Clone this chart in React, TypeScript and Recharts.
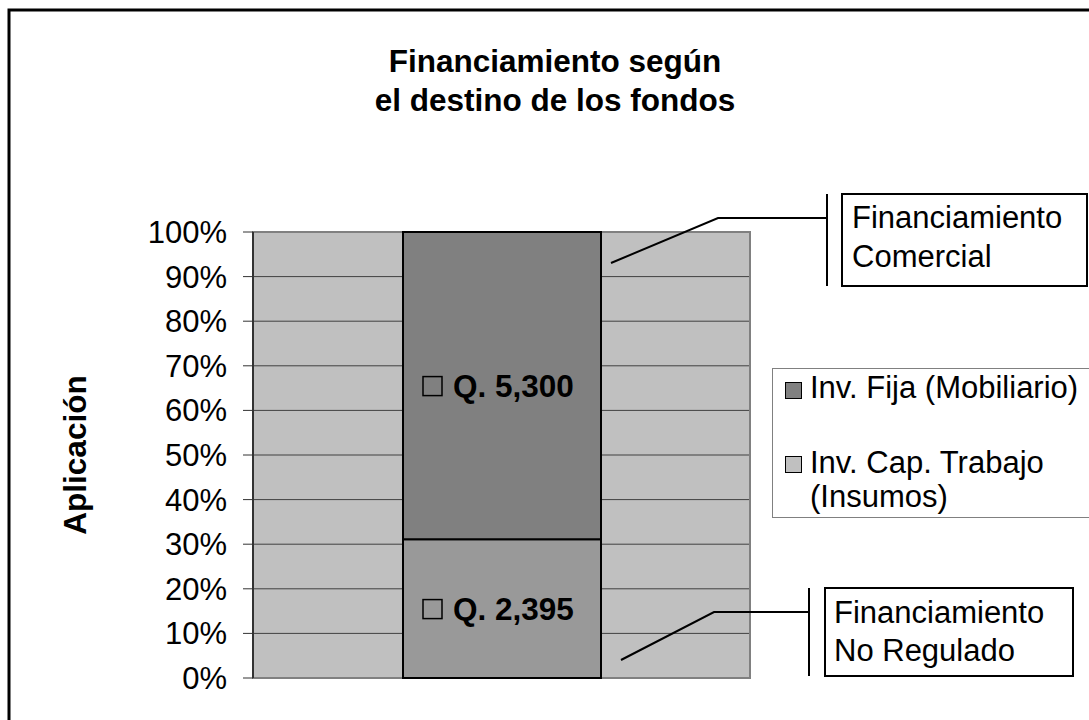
import {
  BarChart,
  Bar,
  XAxis,
  YAxis,
  CartesianGrid,
  LabelList,
  Legend,
  ReferenceArea,
} from "recharts";

const FONT = "'Liberation Sans', Arial, sans-serif";
const FS = 31;
const FSB = 31.5;

const categorias = ["Aplicación"];
const capTrabajo = [2395];
const invFija = [5300];
const yTicks = [0, 0.1, 0.2, 0.3, 0.4, 0.5, 0.6, 0.7, 0.8, 0.9, 1];
const legendNames = ["Inv. Fija (Mobiliario)", "Inv. Cap. Trabajo", "(Insumos)"];
const legendColors = ["#808080", "#C0C0C0"];

const data = categorias.map((c, i) => ({
  nombre: c,
  capTrabajo: capTrabajo[i],
  invFija: invFija[i],
}));

function QLabel(props: any) {
  const vb = props.viewBox ?? props;
  const x = Number(vb.x ?? props.x);
  const y = Number(vb.y ?? props.y);
  const w = Number(vb.width ?? props.width);
  const h = Number(vb.height ?? props.height);
  const cx = x + w / 2;
  const cy = y + h / 2;
  return (
    <g>
      <rect x={cx - 79} y={cy - 9} width={19} height={19} fill="none" stroke="#000" strokeWidth={1.5} />
      <text
        x={cx - 49}
        y={cy + 11}
        fontFamily={FONT}
        fontWeight="bold"
        fontSize={FSB}
        fill="#000"
      >
        Q. {Number(props.value).toLocaleString("en-US")}
      </text>
    </g>
  );
}

function LegendBox() {
  return (
    <svg width={330} height={150} style={{ display: "block" }}>
      <rect x={0.5} y={0.5} width={329} height={149} fill="#fff" stroke="#808080" />
      <rect x={13.5} y={14.5} width={16} height={16} fill={legendColors[0]} stroke="#000" />
      <text x={38} y={30} fontFamily={FONT} fontSize={FS} fill="#000">
        {legendNames[0]}
      </text>
      <rect x={13.5} y={88.5} width={16} height={16} fill={legendColors[1]} stroke="#000" />
      <text x={38} y={105} fontFamily={FONT} fontSize={FS} fill="#000">
        {legendNames[1]}
      </text>
      <text x={38} y={139} fontFamily={FONT} fontSize={FS} fill="#000">
        {legendNames[2]}
      </text>
    </svg>
  );
}

export default function App() {
  return (
    <div style={{ position: "absolute", left: 0, top: 0, width: 1089, height: 720, background: "#fff", overflow: "hidden" }}>
      <BarChart
        width={1089}
        height={720}
        data={data}
        stackOffset="expand"
        margin={{ top: 232, right: 339, bottom: 42, left: 8 }}
      >
        <CartesianGrid vertical={false} stroke="#404040" fill="#C0C0C0" fillOpacity={1} />
        <ReferenceArea y1={0} y2={1} fill="none" stroke="#808080" strokeWidth={2} ifOverflow="visible" />
        <XAxis dataKey="nombre" hide />
        <YAxis
          type="number"
          domain={[0, 1]}
          ticks={yTicks}
          interval={0}
          tickFormatter={(v: number) => `${Math.round(v * 100)}%`}
          width={245}
          tickSize={10}
          tickMargin={16}
          axisLine={{ stroke: "#333", strokeWidth: 2 }}
          tickLine={{ stroke: "#333" }}
          tick={{ fill: "#000", fontSize: FS, fontFamily: FONT }}
          label={{
            value: "Aplicación",
            angle: -90,
            position: "insideLeft",
            offset: 67,
            style: { textAnchor: "middle", fontWeight: "bold", fontSize: FSB, fill: "#000", fontFamily: FONT },
          }}
        />
        <Legend
          layout="vertical"
          align="center"
          verticalAlign="middle"
          content={LegendBox}
          wrapperStyle={{ position: "absolute", left: 772, top: 368, width: 330, height: 150 }}
        />
        <Bar
          dataKey="capTrabajo"
          stackId="a"
          fill="#999999"
          stroke="#000"
          strokeWidth={2}
          barSize={198}
          isAnimationActive={false}
        >
          <LabelList dataKey="capTrabajo" content={QLabel} />
        </Bar>
        <Bar
          dataKey="invFija"
          stackId="a"
          fill="#808080"
          stroke="#000"
          strokeWidth={2}
          barSize={198}
          isAnimationActive={false}
        >
          <LabelList dataKey="invFija" content={QLabel} />
        </Bar>
      </BarChart>

      <svg
        width={1089}
        height={720}
        style={{ position: "absolute", left: 0, top: 0, pointerEvents: "none" }}
      >
        <rect x={9} y={10} width={1200} height={800} fill="none" stroke="#000" strokeWidth={3} />
        <text x={555} y={72} textAnchor="middle" fontFamily={FONT} fontWeight="bold" fontSize={FSB} fill="#000">
          Financiamiento según
        </text>
        <text x={555} y={111} textAnchor="middle" fontFamily={FONT} fontWeight="bold" fontSize={FSB} fill="#000">
          el destino de los fondos
        </text>

        {/* callout: Financiamiento Comercial */}
        <polyline points="611,263 718,218 827,218" fill="none" stroke="#000" strokeWidth={2} />
        <line x1={827} y1={194} x2={827} y2={286} stroke="#000" strokeWidth={2} />
        <rect x={842} y={194} width={245} height={92} fill="#fff" stroke="#000" strokeWidth={2} />
        <text x={852} y={228} fontFamily={FONT} fontSize={FS} fill="#000">Financiamiento</text>
        <text x={852} y={267} fontFamily={FONT} fontSize={FS} fill="#000">Comercial</text>

        {/* callout: Financiamiento No Regulado */}
        <polyline points="621,660 714,612 809,612" fill="none" stroke="#000" strokeWidth={2} />
        <line x1={809} y1={588} x2={809} y2={676} stroke="#000" strokeWidth={2} />
        <rect x={825} y={588} width={248} height={88} fill="#fff" stroke="#000" strokeWidth={2} />
        <text x={834} y={623} fontFamily={FONT} fontSize={FS} fill="#000">Financiamiento</text>
        <text x={834} y={661} fontFamily={FONT} fontSize={FS} fill="#000">No Regulado</text>
      </svg>
    </div>
  );
}
